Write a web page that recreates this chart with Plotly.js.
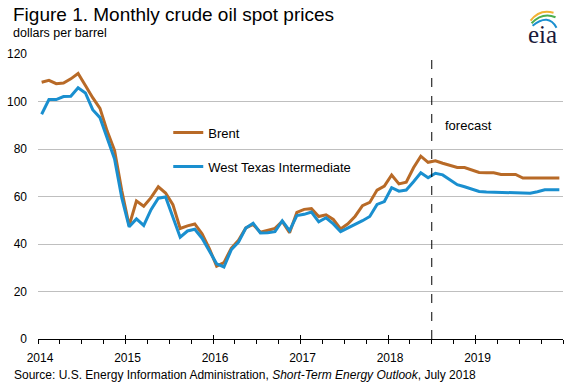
<!DOCTYPE html>
<html>
<head>
<meta charset="utf-8">
<script src="https://cdn.plot.ly/plotly-3.0.1.min.js"></script>
<style>html,body{margin:0;padding:0;background:#fff;}#chart{width:571px;height:389px;}</style>
</head>
<body>
<div id="chart"></div>
<script>
// ---- data ----
const years = ['2014','2015','2016','2017','2018','2019'];
const monthNames = ['01','02','03','04','05','06','07','08','09','10','11','12'];
const months = [];
years.forEach(y => monthNames.forEach(m => months.push(y + '-' + m)));
const forecastStart = '2018-07';

const brent = [
  108.12,108.90,107.48,107.76,109.54,111.80,106.77,101.61,97.09,87.43,79.44,62.34,
  47.76,58.10,55.89,59.52,64.08,61.48,56.56,46.52,47.62,48.43,44.27,38.01,
  30.70,32.18,38.21,41.58,46.74,48.25,44.95,45.84,46.57,49.52,44.73,53.31,
  54.58,54.87,51.59,52.31,50.33,46.37,48.48,51.70,56.15,57.51,62.71,64.37,
  69.08,65.32,66.02,72.11,76.98,74.41,75.0,74.0,73.0,72.2,72.2,71.2,
  70.1,70.0,70.0,69.3,69.3,69.3,67.8,67.8,67.8,67.8,67.8,67.8
];
const wti = [
  94.62,100.82,100.80,102.07,102.18,105.79,103.59,96.54,93.21,84.40,75.79,59.29,
  47.22,50.58,47.82,54.45,59.27,59.82,50.90,42.87,45.48,46.22,42.44,37.19,
  31.68,30.32,37.55,40.75,46.71,48.76,44.65,44.72,45.18,49.78,45.66,51.97,
  52.50,53.47,49.33,51.06,48.48,45.18,46.63,48.04,49.82,51.58,56.64,57.88,
  63.70,62.23,62.73,66.25,69.98,67.87,69.8,69.1,67.0,65.0,64.1,63.0,
  62.1,61.9,61.8,61.5,61.4,61.4,61.4,61.4,62.0,62.8,62.8,62.8
];
const seriesNames = ['Brent','West Texas Intermediate'];
const yTicks = [0,20,40,60,80,100,120];

// ---- layout helpers ----
const W = 571, H = 389;
const M = {l:37.5, r:7.5, t:54.3, b:49.5};
const PW = W - M.l - M.r, PH = H - M.t - M.b;
const px = x => (x - M.l) / PW;
const py = y => (H - M.b - y) / PH;

const idx = months.map((m, i) => i);
const yearTickVals = years.map((y, i) => months.indexOf(y + '-01') - 0.5).concat([months.length - 0.5]);
const yearTickText = years.concat(['']);
const fIdx = months.indexOf(forecastStart) - 0.5;

const traces = [
  {x: idx, y: brent, name: seriesNames[0], type: 'scatter', mode: 'lines',
   line: {color: '#B86A27', width: 3}, legendgroup: 'a'},
  {x: idx, y: wti, name: seriesNames[1], type: 'scatter', mode: 'lines',
   line: {color: '#1A8FCF', width: 3}, legendgroup: 'b'},
  {x: [idx[0]], y: [null], xaxis: 'x2', showlegend: false, hoverinfo: 'skip', mode: 'lines'}
];

const font = 'Liberation Sans, Arial, sans-serif';
const arc = (pts) => 'M ' + pts[0].map(v=>v).join(',') + ' Q ' + pts[1].join(',') + ' ' + pts[2].join(',');
const toPaper = p => [px(p[0]), py(p[1])];

const layout = {
  width: W, height: H,
  margin: M,
  paper_bgcolor: '#fff', plot_bgcolor: '#fff',
  font: {family: font, size: 12, color: '#000'},
  showlegend: true,
  legend: {x: px(168), xanchor: 'left', y: py(118), yanchor: 'top',
           font: {family: font, size: 13, color: '#000'},
           bgcolor: 'rgba(0,0,0,0)', tracegroupgap: 14, traceorder: 'grouped'},
  xaxis: {
    range: [-0.5, months.length - 0.5], fixedrange: true,
    tickmode: 'array', tickvals: yearTickVals, ticktext: yearTickText,
    ticks: 'outside', ticklen: 4, tickcolor: '#000', tickwidth: 1,
    ticklabelshift: 2, ticklabelstandoff: 4,
    minor: {ticks: 'outside', ticklen: 4, tickcolor: '#000', tickwidth: 1, tick0: -0.5, dtick: 3, showgrid: false},
    showline: true, linecolor: '#000', linewidth: 1,
    showgrid: false, zeroline: false,
    tickfont: {family: font, size: 12, color: '#000'}
  },
  xaxis2: {
    overlaying: 'x', matches: 'x', side: 'bottom', anchor: 'y',
    range: [-0.5, months.length - 0.5],
    tickmode: 'array', tickvals: yearTickVals,
    ticks: 'inside', ticklen: 4, tickcolor: '#000', tickwidth: 1,
    showticklabels: false, showline: false, showgrid: false, zeroline: false
  },
  yaxis: {
    range: [0, 120], fixedrange: true,
    tickmode: 'array', tickvals: yTicks,
    ticks: '', ticklabelstandoff: 10,
    showgrid: true, gridcolor: '#BFBFBF', gridwidth: 1,
    zeroline: false, showline: false,
    tickfont: {family: font, size: 12, color: '#000'}
  },
  shapes: [
    {type: 'line', xref: 'x', yref: 'y', x0: fIdx, x1: fIdx, y0: 0, y1: 120,
     line: {color: '#000', width: 1, dash: 'dash'}},
    {type: 'path', xref: 'paper', yref: 'paper', line: {color: '#F2B233', width: 2},
     path: arc([toPaper([531,21]), toPaper([540,9]), toPaper([554,13])])},
    {type: 'path', xref: 'paper', yref: 'paper', line: {color: '#4CAF50', width: 2},
     path: arc([toPaper([532,23.5]), toPaper([543,12]), toPaper([556,17.5])])},
    {type: 'path', xref: 'paper', yref: 'paper', line: {color: '#1A8FCF', width: 2},
     path: arc([toPaper([533,26]), toPaper([549,13]), toPaper([557,28])])}
  ],
  annotations: [
    {text: 'Figure 1. Monthly crude oil spot prices', xref: 'paper', yref: 'paper',
     x: px(10.5), y: py(2), xanchor: 'left', yanchor: 'top', showarrow: false,
     font: {family: font, size: 19, color: '#000'}},
    {text: 'dollars per barrel', xref: 'paper', yref: 'paper',
     x: px(10.5), y: py(24), xanchor: 'left', yanchor: 'top', showarrow: false,
     font: {family: font, size: 12.5, color: '#000'}},
    {text: 'Source: U.S. Energy Information Administration, <i>Short-Term Energy Outlook</i>, July 2018',
     xref: 'paper', yref: 'paper', x: px(11), y: py(367), xanchor: 'left', yanchor: 'top', showarrow: false,
     font: {family: font, size: 12, color: '#000'}},
    {text: 'forecast', xref: 'x', yref: 'y', x: fIdx + 1.5, y: 90, xanchor: 'left', yanchor: 'middle',
     showarrow: false, font: {family: font, size: 13, color: '#000'}},
    {text: 'eia', xref: 'paper', yref: 'paper', x: px(542.5), y: py(19), xanchor: 'center', yanchor: 'top',
     showarrow: false, font: {family: 'Liberation Serif, DejaVu Serif, serif', size: 25, color: '#1B1B3A'}}
  ]
};

Plotly.newPlot('chart', traces, layout, {staticPlot: true, displayModeBar: false});
</script>
</body>
</html>
